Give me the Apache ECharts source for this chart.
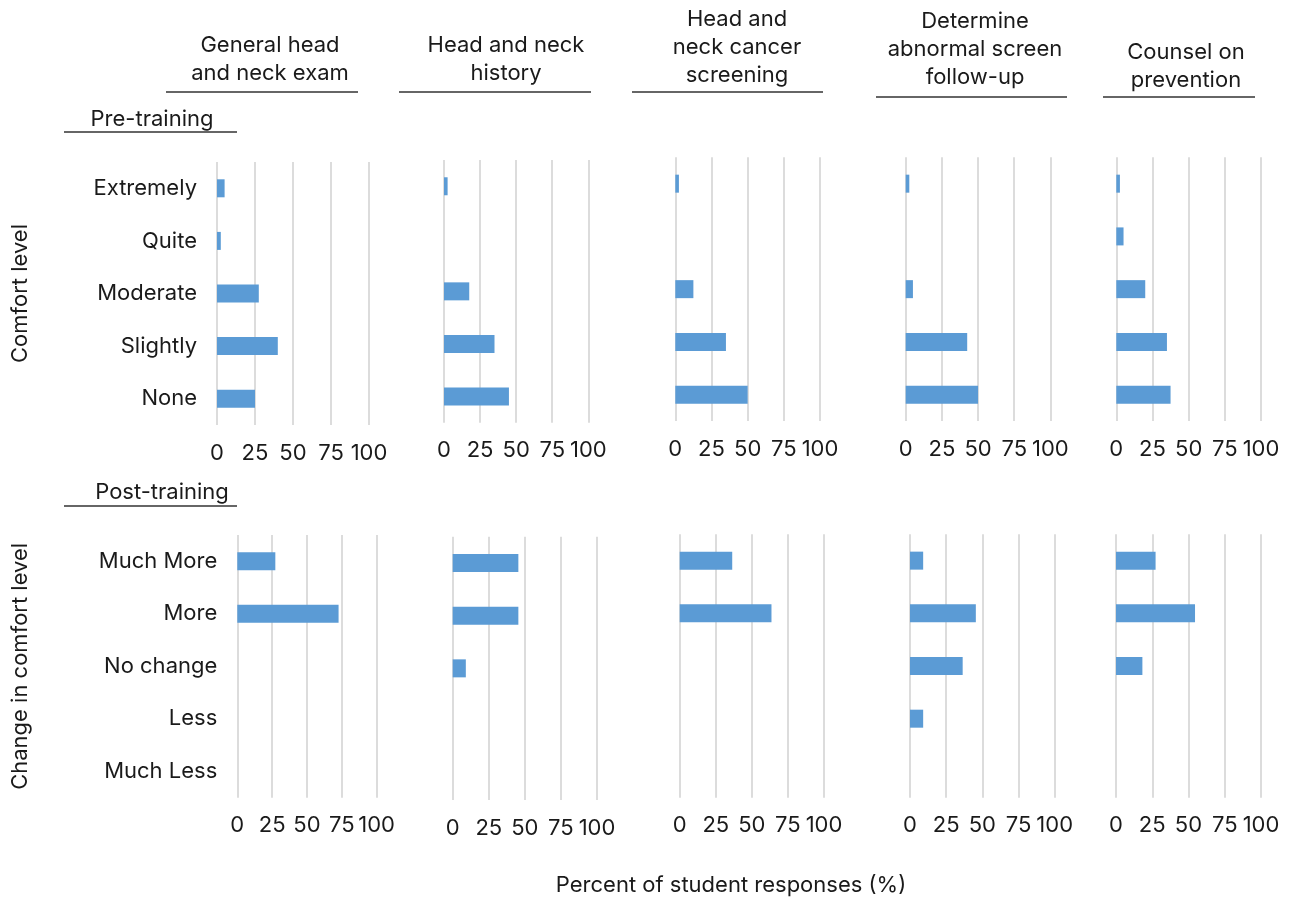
<!DOCTYPE html>
<html>
<head>
<meta charset="utf-8">
<script src="https://cdn.jsdelivr.net/npm/echarts@6/dist/echarts.min.js"></script>
<style>html,body{margin:0;padding:0;background:#fff}#c{width:1289px;height:898px}</style>
</head>
<body>
<div id="c"></div>
<script>
// ---- data ----
const skillTitles = [
  'General head\nand neck exam',
  'Head and neck\nhistory',
  'Head and\nneck cancer\nscreening',
  'Determine\nabnormal screen\nfollow-up',
  'Counsel on\nprevention'
];
const preCategories = ['Extremely', 'Quite', 'Moderate', 'Slightly', 'None'];
const postCategories = ['Much More', 'More', 'No change', 'Less', 'Much Less'];
const xTicks = [0, 25, 50, 75, 100];

// Pre-training comfort level (% of responses), top-to-bottom order
const preGeneralExam   = [5.0, 2.5, 27.5, 40.0, 25.0];
const preHistory       = [2.5, 0, 17.5, 35.0, 45.0];
const preScreening     = [2.5, 0, 12.5, 35.0, 50.0];
const preFollowUp      = [2.5, 0, 5.0, 42.5, 50.0];
const prePrevention    = [2.5, 5.0, 20.0, 35.0, 37.5];

// Post-training change in comfort level (% of responses)
const postGeneralExam  = [27.3, 72.7, 0, 0, 0];
const postHistory      = [45.5, 45.5, 9.1, 0, 0];
const postScreening    = [36.4, 63.6, 0, 0, 0];
const postFollowUp     = [9.1, 45.5, 36.4, 9.1, 0];
const postPrevention   = [27.3, 54.5, 18.2, 0, 0];

const preData = [preGeneralExam, preHistory, preScreening, preFollowUp, prePrevention];
const postData = [postGeneralExam, postHistory, postScreening, postFollowUp, postPrevention];

// ---- layout ----
const FONT = 'Inter';
const FS = 22;
const TXT = '#1a1a1a';
const topGrids = [
  {left: 217, width: 152, top: 162, bottom: 425},
  {left: 444, width: 144.3, top: 160, bottom: 422.7},
  {left: 675.3, width: 144.7, top: 157.3, bottom: 421},
  {left: 905.7, width: 144.7, top: 157.3, bottom: 421},
  {left: 1116.3, width: 144.7, top: 157.3, bottom: 421}
];
const botGrids = [
  {left: 237.3, width: 139.3, top: 535, bottom: 797.7},
  {left: 452.7, width: 144.3, top: 536.7, bottom: 800},
  {left: 679.7, width: 144.3, top: 534.3, bottom: 797.7},
  {left: 910, width: 144.7, top: 534.3, bottom: 797.7},
  {left: 1116, width: 145, top: 534.3, bottom: 797.7}
];
const titlePos = [
  {x: 270, y0: 45},
  {x: 506, y0: 45},
  {x: 737, y0: 19},
  {x: 975, y0: 21},
  {x: 1186, y0: 52}
];
const underlines = [[166, 358, 92], [399, 591, 92], [632, 823, 92], [876, 1067, 97], [1103, 1255, 97]];

const grid = [], xAxis = [], yAxis = [], series = [];
function addPanel(g, cats, values, showLabels, yName, yGap) {
  const i = grid.length;
  grid.push({left: g.left, top: g.top, width: g.width, height: g.bottom - g.top, containLabel: false});
  xAxis.push({
    type: 'value', gridIndex: i, min: xTicks[0], max: xTicks[xTicks.length - 1], interval: 25,
    axisLine: {show: false}, axisTick: {show: false},
    splitLine: {show: true, lineStyle: {color: '#d9d9d9', width: 1.8}},
    axisLabel: {margin: 17, fontSize: FS, fontFamily: FONT, color: TXT}
  });
  yAxis.push({
    type: 'category', gridIndex: i, data: cats, inverse: true,
    axisLine: {show: false}, axisTick: {show: false},
    axisLabel: {show: showLabels, margin: 20, fontSize: FS, fontFamily: FONT, color: TXT},
    name: yName || '', nameLocation: 'middle', nameRotate: 90, nameGap: yGap || 0,
    nameTextStyle: {fontSize: FS, fontFamily: FONT, color: TXT}
  });
  series.push({
    type: 'bar', xAxisIndex: i, yAxisIndex: i, data: values, barWidth: 18,
    itemStyle: {color: '#5b9bd5'},
    silent: true, animation: false
  });
}
for (let k = 0; k < 5; k++) {
  addPanel(topGrids[k], preCategories, preData[k], k === 0, k === 0 ? 'Comfort level' : '', 186);
}
for (let k = 0; k < 5; k++) {
  addPanel(botGrids[k], postCategories, postData[k], k === 0, k === 0 ? 'Change in comfort level' : '', 206);
}

const graphic = [];
const textStyle = (extra) => Object.assign({fontSize: FS, fontFamily: FONT, fill: TXT}, extra);
for (let k = 0; k < 5; k++) {
  const lines = skillTitles[k].split('\n');
  lines.forEach((ln, j) => {
    graphic.push({type: 'text', x: titlePos[k].x, y: titlePos[k].y0 + j * 28,
      style: textStyle({text: ln, align: 'center', verticalAlign: 'middle'})});
  });
  const u = underlines[k];
  graphic.push({type: 'line', shape: {x1: u[0], y1: u[2], x2: u[1], y2: u[2]}, style: {stroke: '#333', lineWidth: 1.5}});
}
graphic.push({type: 'text', x: 152, y: 119, style: textStyle({text: 'Pre-training', align: 'center', verticalAlign: 'middle'})});
graphic.push({type: 'line', shape: {x1: 64, y1: 132, x2: 237, y2: 132}, style: {stroke: '#333', lineWidth: 1.5}});
graphic.push({type: 'text', x: 162, y: 492, style: textStyle({text: 'Post-training', align: 'center', verticalAlign: 'middle'})});
graphic.push({type: 'line', shape: {x1: 64, y1: 506, x2: 237, y2: 506}, style: {stroke: '#333', lineWidth: 1.5}});
graphic.push({type: 'text', x: 731, y: 885, style: textStyle({text: 'Percent of student responses (%)', align: 'center', verticalAlign: 'middle'})});

const chart = echarts.init(document.getElementById('c'), null, {renderer: 'canvas'});
chart.setOption({
  backgroundColor: '#fff',
  animation: false,
  grid, xAxis, yAxis, series, graphic
});
</script>
</body>
</html>
